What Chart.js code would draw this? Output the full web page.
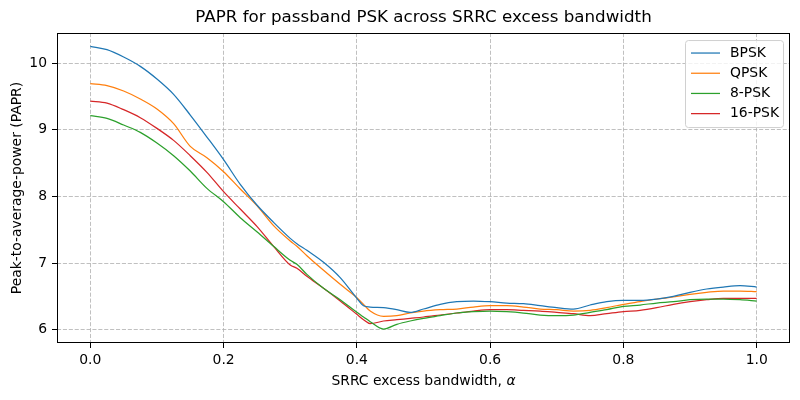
<!DOCTYPE html>
<html><head><meta charset="utf-8">
<script src="https://cdn.jsdelivr.net/npm/chart.js@4/dist/chart.umd.min.js"></script>
<style>html,body{margin:0;padding:0;background:#fff}#wrap{width:800px;height:400px}</style>
</head><body><div id="wrap"><canvas id="c" width="800" height="400"></canvas></div>
<script>
const alphas = [0,0.025,0.05,0.075,0.1,0.125,0.15,0.175,0.2,0.225,0.25,0.275,0.3,0.31,0.325,0.35,0.375,0.4,0.41,0.42,0.44,0.46,0.48,0.5,0.525,0.55,0.575,0.6,0.625,0.65,0.675,0.7,0.725,0.75,0.775,0.8,0.825,0.85,0.875,0.9,0.925,0.95,0.975,1.0];
const bpsk  = [10.25,10.20,10.09,9.95,9.76,9.53,9.22,8.89,8.55,8.18,7.87,7.61,7.37,7.29,7.19,7.01,6.78,6.47,6.36,6.34,6.33,6.30,6.26,6.31,6.38,6.42,6.43,6.42,6.40,6.39,6.36,6.33,6.31,6.37,6.42,6.44,6.44,6.46,6.50,6.56,6.61,6.64,6.66,6.64];
const qpsk  = [9.69,9.66,9.58,9.46,9.31,9.09,8.75,8.58,8.37,8.11,7.86,7.56,7.33,7.25,7.11,6.89,6.68,6.48,6.38,6.28,6.20,6.21,6.25,6.28,6.30,6.31,6.34,6.36,6.36,6.34,6.31,6.30,6.28,6.29,6.33,6.38,6.42,6.46,6.49,6.53,6.56,6.58,6.58,6.57];
const psk8  = [9.21,9.17,9.07,8.96,8.80,8.61,8.38,8.12,7.92,7.68,7.47,7.25,7.04,6.98,6.83,6.62,6.45,6.26,6.19,6.12,6.01,6.08,6.13,6.17,6.21,6.25,6.27,6.28,6.27,6.25,6.22,6.21,6.22,6.26,6.30,6.35,6.37,6.40,6.42,6.45,6.46,6.46,6.45,6.43];
const psk16 = [9.43,9.40,9.30,9.18,9.02,8.84,8.61,8.36,8.07,7.81,7.55,7.25,6.97,6.92,6.80,6.62,6.43,6.23,6.15,6.09,6.13,6.15,6.17,6.19,6.22,6.25,6.28,6.30,6.30,6.29,6.28,6.26,6.24,6.21,6.24,6.27,6.29,6.33,6.38,6.42,6.45,6.47,6.47,6.47];
const seriesNames = ['BPSK','QPSK','8-PSK','16-PSK'];
const xTicks = [0,0.2,0.4,0.6,0.8,1.0];
const yTicks = [6,7,8,9,10];

const colors = ['#1f77b4','#ff7f0e','#2ca02c','#d62728'];
const allSeries = [bpsk,qpsk,psk8,psk16];
const FONT = 'DejaVu Sans';

const datasets = allSeries.map((s,i)=>({
  label: seriesNames[i],
  data: alphas.map((a,j)=>({x:a,y:s[j]})),
  borderColor: colors[i], backgroundColor: colors[i],
  borderWidth: 1.25, pointRadius: 0, cubicInterpolationMode:'monotone', fill:false
}));

const boxPlugin = {
  id:'boxLegend',
  afterDraw(chart){
    const {ctx, chartArea:a} = chart;
    ctx.save();
    ctx.strokeStyle='#000'; ctx.lineWidth=1;
    ctx.strokeRect(Math.round(a.left)+0.5, Math.round(a.top)+0.5, Math.round(a.right-a.left)-1, Math.round(a.bottom-a.top)-1);
    // x axis title with italic alpha
    const t1 = 'SRRC excess bandwidth, ', t2 = 'α';
    ctx.font = '13.9px "'+FONT+'"';
    const w1 = ctx.measureText(t1).width;
    ctx.font = 'italic 13.9px "'+FONT+'"';
    const w2 = ctx.measureText(t2).width;
    const cx = (a.left+a.right)/2, start = cx-(w1+w2)/2;
    ctx.fillStyle='#000'; ctx.textBaseline='middle'; ctx.textAlign='left';
    ctx.font = '13.9px "'+FONT+'"'; ctx.fillText(t1, start, 381);
    ctx.font = 'italic 13.9px "'+FONT+'"'; ctx.fillText(t2, start+w1, 381);
    // legend
    const lx = a.right-105, ly = a.top+7, lw = 98, lh = 87;
    ctx.fillStyle='rgba(255,255,255,0.8)';
    ctx.strokeStyle='#d0d0d0';
    ctx.beginPath();
    if (ctx.roundRect) ctx.roundRect(lx+0.5,ly+0.5,lw,lh,3); else ctx.rect(lx+0.5,ly+0.5,lw,lh);
    ctx.fill(); ctx.stroke();
    ctx.font = '13.9px "'+FONT+'"';
    seriesNames.forEach((n,i)=>{
      const y = ly + 13 + i*20.2;
      ctx.strokeStyle=colors[i]; ctx.lineWidth=1.25;
      ctx.beginPath(); ctx.moveTo(lx+6,y); ctx.lineTo(lx+35,y); ctx.stroke();
      ctx.fillStyle='#000';
      ctx.fillText(n, lx+45, y);
    });
    ctx.restore();
  }
};

new Chart(document.getElementById('c'), {
  type:'line',
  data:{datasets},
  plugins:[boxPlugin],
  options:{
    responsive:false, animation:false,
    layout:{padding:{left:0,right:10,top:0,bottom:0}},
    plugins:{
      legend:{display:false},
      tooltip:{enabled:false},
      title:{display:true, fullSize:false, text:'PAPR for passband PSK across SRRC excess bandwidth',
        color:'#000', font:{family:FONT,size:16.7,weight:'normal',lineHeight:1.2}, padding:{top:8,bottom:5}}
    },
    scales:{
      x:{type:'linear', min:-0.05, max:1.05,
        afterBuildTicks(s){ s.ticks = xTicks.map(v=>({value:v})); },
        afterFit(s){ s.height = 57; },
        ticks:{color:'#000', font:{family:FONT,size:13.9}, padding:4, maxRotation:0,
          callback:(v)=>Number(v).toFixed(1)},
        grid:{color:'#b0b0b0', lineWidth:0.8, drawTicks:true, tickLength:5, tickColor:'#000', tickBorderDash:[], tickWidth:1},
        border:{display:false, dash:[4.1,1.8]},
        title:{display:false}
      },
      y:{type:'linear', min:5.80, max:10.45,
        afterBuildTicks(s){ s.ticks = yTicks.map(v=>({value:v})); },
        afterFit(s){ s.width = 57; },
        ticks:{color:'#000', font:{family:FONT,size:13.9}, padding:5,
          callback:(v)=>String(v)},
        grid:{color:'#b0b0b0', lineWidth:0.8, drawTicks:true, tickLength:5, tickColor:'#000', tickBorderDash:[], tickWidth:1},
        border:{display:false, dash:[4.1,1.8]},
        title:{display:true, text:'Peak-to-average-power (PAPR)', color:'#000', font:{family:FONT,size:13.9,lineHeight:1.2}, padding:{top:8.6,bottom:4}}
      }
    }
  }
});
</script></body></html>
